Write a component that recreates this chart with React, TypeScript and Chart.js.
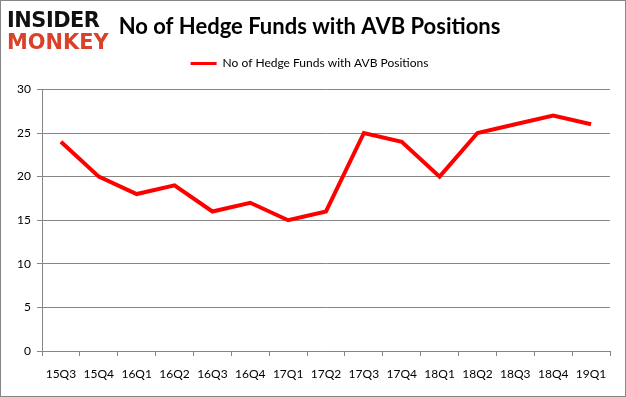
import React, { useEffect, useRef } from "react";
import { Chart, registerables } from "chart.js";

Chart.register(...registerables);

const categories = ["15Q3", "15Q4", "16Q1", "16Q2", "16Q3", "16Q4", "17Q1", "17Q2", "17Q3", "17Q4", "18Q1", "18Q2", "18Q3", "18Q4", "19Q1"];
const hedgeFunds = [24, 20, 18, 19, 16, 17, 15, 16, 25, 24, 20, 25, 26, 27, 26];
const seriesName = "No of Hedge Funds with AVB Positions";
const titleText = "No of Hedge Funds with AVB Positions";
const yMin = 0;
const yMax = 30;
const yStep = 5;

const legendSpacer = {
  id: "legendSpacer",
  afterInit(chart: any) {
    const lg = chart.legend;
    if (!lg) return;
    const orig = lg.fit.bind(lg);
    lg.fit = function () {
      orig();
      this.height += 10;
    };
  },
};

export default function App() {
  const ref = useRef<HTMLCanvasElement | null>(null);
  useEffect(() => {
    document.body.style.margin = "0";
    const ctx = ref.current!;
    const chart = new Chart(ctx, {
      type: "line",
      data: {
        labels: categories,
        datasets: [
          {
            label: seriesName,
            data: hedgeFunds,
            borderColor: "#ff0000",
            backgroundColor: "#ff0000",
            borderWidth: 4,
            pointRadius: 0,
            tension: 0,
          },
        ],
      },
      plugins: [legendSpacer],
      options: {
        animation: false,
        responsive: false,
        maintainAspectRatio: false,
        layout: { padding: { left: 8, right: 15, top: 0, bottom: 0 } },
        plugins: {
          title: {
            display: true,
            text: titleText,
            color: "#000",
            font: { family: "Lato", size: 22, weight: "bold" },
            padding: { top: 13, bottom: 9 },
          },
          legend: {
            display: true,
            labels: {
              color: "#000",
              font: { family: "Lato", size: 12 },
              usePointStyle: true,
              pointStyle: "line",
              pointStyleWidth: 26,
              padding: 8,
              generateLabels: (c: any) =>
                c.data.datasets.map((d: any, i: number) => ({
                  text: d.label,
                  fillStyle: d.borderColor,
                  strokeStyle: d.borderColor,
                  lineWidth: 3,
                  pointStyle: "line",
                  datasetIndex: i,
                  hidden: false,
                  fontColor: "#000",
                })),
            },
          },
          tooltip: { enabled: false },
        },
        scales: {
          x: {
            offset: true,
            grid: {
              offset: true,
              drawOnChartArea: false,
              drawTicks: true,
              tickLength: 5,
              color: "#868686",
            },
            border: { color: "#868686" },
            ticks: {
              color: "#000",
              font: { family: "Lato", size: 12 },
              maxRotation: 0,
              autoSkip: false,
              padding: 11,
            },
            afterFit: (s: any) => {
              s.height = 45;
            },
          },
          y: {
            min: yMin,
            max: yMax,
            grid: { color: "#868686", tickLength: 5 },
            border: { color: "#868686" },
            ticks: {
              stepSize: yStep,
              color: "#000",
              font: { family: "Lato", size: 12 },
              padding: 6,
            },
            afterFit: (s: any) => {
              s.width = 33;
            },
          },
        },
      },
    });
    return () => chart.destroy();
  }, []);

  const logoStyle: React.CSSProperties = {
    position: "absolute",
    left: 6,
    fontFamily: "'DejaVu Sans'",
    fontWeight: "bold",
    fontSize: 22,
    lineHeight: "22px",
    transform: "scaleX(0.95)",
    transformOrigin: "left",
  };

  return (
    <div
      style={{
        position: "absolute",
        left: 0,
        top: 0,
        width: 626,
        height: 397,
        boxSizing: "border-box",
        border: "1px solid #868686",
        background: "#fff",
        overflow: "hidden",
      }}
    >
      <canvas ref={ref} width={624} height={395} style={{ display: "block" }} />
      <div style={{ ...logoStyle, top: 8, letterSpacing: -0.5, color: "#111" }}>INSIDER</div>
      <div style={{ ...logoStyle, top: 30, letterSpacing: 0, color: "#d9412b" }}>MONKEY</div>
    </div>
  );
}
